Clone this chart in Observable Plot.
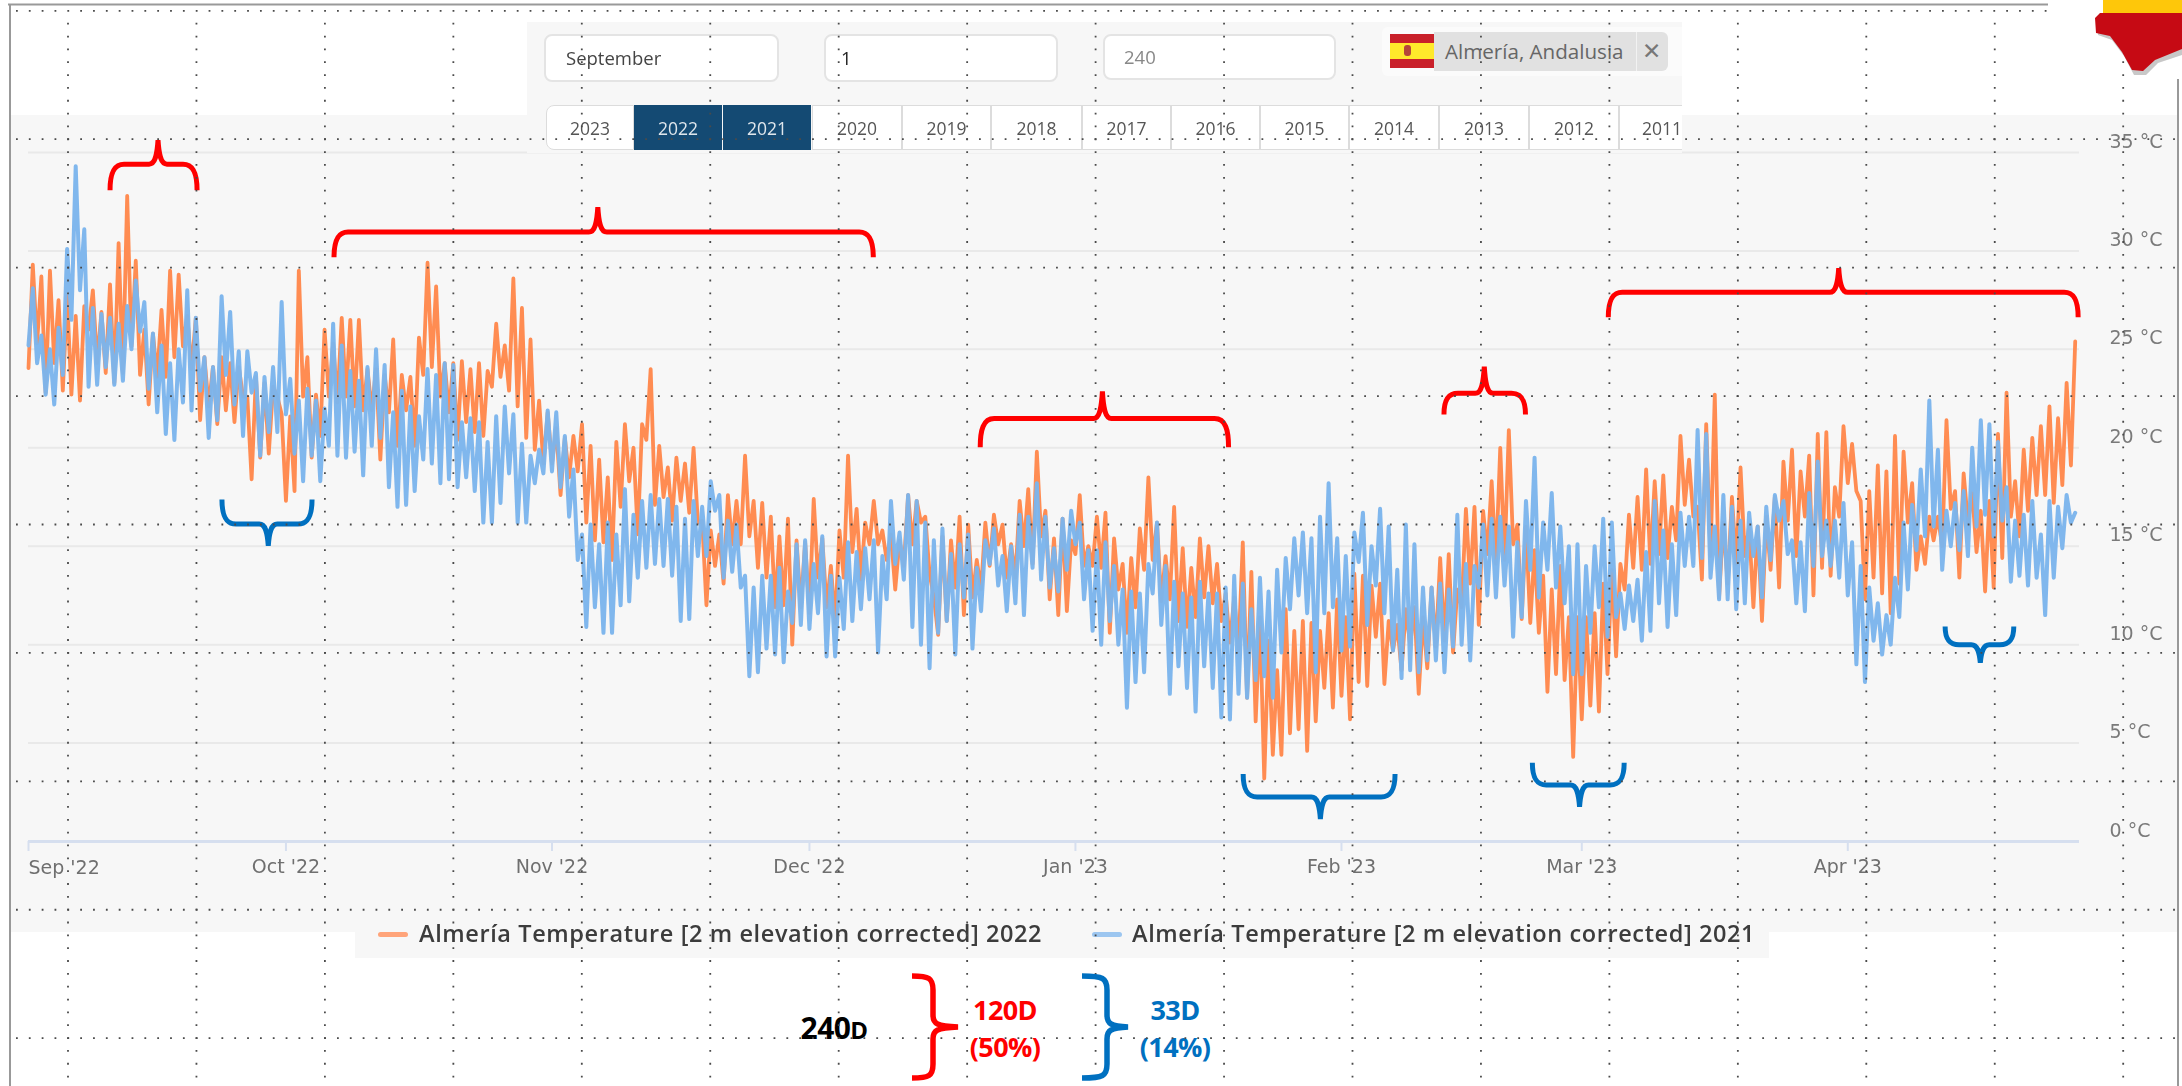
<!DOCTYPE html>
<html>
<head>
<meta charset="utf-8">
<script src="https://cdn.jsdelivr.net/npm/d3@7"></script>
<script src="https://cdn.jsdelivr.net/npm/@observablehq/plot@0.6"></script>
<style>
html,body{margin:0;padding:0;background:#fff}
#page{position:relative;width:2182px;height:1086px;overflow:hidden;font-family:"Open Sans",sans-serif}
#page>*{position:absolute}
.panel{background:#f7f7f7}
.box{background:#fff;border:2px solid #e4e4e4;border-radius:8px;box-sizing:border-box;font-size:18.5px;color:#444;display:flex;align-items:center;padding-bottom:2px}
.year{top:105px;height:45px;box-sizing:border-box;background:#fff;border:1px solid #dcdcdc;font-size:17.5px;color:#555;display:flex;align-items:center;justify-content:center;z-index:2;overflow:hidden}
.year.on{background:#144a73;color:#dfe6ec;border-color:#144a73}
.leg{font-size:23.5px;letter-spacing:.6px;font-weight:600;color:#3c3c3c;white-space:nowrap;z-index:2;line-height:1}
.swatch{height:5px;width:30px;border-radius:3px;z-index:2}
.note{font-weight:700;font-size:27px;line-height:1;white-space:nowrap;transform:translateX(-50%);letter-spacing:-.6px;z-index:2}
svg.chart g[aria-label="line"]{filter:blur(.45px)}
svg.chart text,.leg,.year,.box{filter:blur(.35px)}
</style>
</head>
<body>
<div id="page"></div>
<script>
// ---------- data: daily lows and highs (°C) starting 1 September ----------
const orangeLows = [
24.05,25.3,22.8,24.3,22.9,22.7,22.4,26,24.3,23.8,23.3,23.8,25.15,23.7,22.2,23.6,23.6,24.6,25.15,24,
21.4,22.1,21.2,21.9,21.3,22.6,18.4,19.5,19.7,22.6,17.3,17.8,22.6,19.5,20.6,22.6,22.3,22.6,22.1,21.9,
21.9,19.4,21.8,20.1,21.9,20.1,23.7,24.1,22.6,21.8,20.4,21.3,20.8,20.6,23.1,23.6,22.9,22.1,20.5,19.9,19.2,
19.2,17.6,18.5,18.8,16.2,15.3,15.2,14.3,17,18.3,15.6,20.4,17.1,17.5,16.3,17.3,16.7,16.2,12,14,
13.1,15.1,15.1,15.5,13.9,13.4,11.9,12,10,11.9,11.6,13.4,11.9,11.1,13.4,14.7,13.3,15.1,15.1,14.3,
12.8,14,15.1,16.2,13.6,10.5,11.2,12.9,11.5,12.4,12.8,14,15.1,13.4,13.4,15,14.1,15.5,12.3,11.5,11.7,14.6,14,14,
13.9,10.6,12.8,10.6,11.9,13.8,14.3,12.2,12.3,11.2,10.9,11.4,12.4,12.1,11.2,10.1,9.7,7.3,6.1,3.2,
4.4,4.4,5.5,5.7,4.6,6.1,7.8,6.8,7.4,6.2,8.1,7.9,10.4,8,9.7,8.7,10,7.5,8.8,9.9,
10.2,9.6,11.9,13.1,11,14.6,14.1,14.3,15.1,11.3,11.1,10.6,7.6,8.5,8.2,4.3,6.2,6.9,6.6,8.5,9.4,12.8,13.9,13.8,
14.1,14.6,14.4,15.3,17.1,16.5,13.3,14.5,12.4,13.1,14.1,14.5,11.9,11.2,13.8,12.9,16.3,14.5,16.5,12.5,
13.9,13.5,16.5,18.2,17.8,12.3,13.4,12.6,11.6,13.1,16.2,13.8,14.1,15.3,15,16.9,13.4,16.2,14.7,12.7,
12.9,14.4,16.5,15.5,16.8,17.6,17.6,17.2,18.1,19.1];
const orangeHighs = [
29.3,28.7,29,27.5,27.7,26.7,27.2,28,26.9,28.3,30.4,32.8,29.5,26,25.8,27,29,28.8,26.7,26.6,
24.6,24.1,24.6,24.3,24.1,22.6,23.6,23.3,23.1,21.7,21.6,29,24.6,22.7,26,25.3,26.6,26.5,26.5,24,
24,23.7,25.5,23.7,23.6,25.6,29.4,28.2,24.3,24.3,24.4,24,24.3,23.9,26.3,25.2,28.6,27.1,25.5,22.4,21.8,
21,20.5,20.6,21.2,20.1,19.4,18.5,20.3,21.2,20,21.2,24,20.1,19,19.5,19.2,20,16.3,15.8,15.6,
17.6,17.3,19.6,17.3,17.2,16.5,15.5,16.4,15.3,15.2,17.4,15.4,14,15.8,19.6,16.9,16.2,17.3,15.8,15.6,
15.3,17.6,17.3,16.5,12.4,15.5,15.3,16.5,16.1,14.3,16.2,16.6,16.1,15.1,17.3,17.9,19.8,16.8,15.4,16.4,15.3,17.6,15,16.5,
16.7,15.4,14.1,14.4,15.9,18.5,16.2,14.5,17,14.9,13.9,15.4,15,14.1,12.6,12.4,15.2,13.7,11.4,10.2,
8.7,11.8,10.7,11.2,11.1,10.7,11.6,12.3,11.4,13.6,13.5,13,13.1,11.2,11,11.8,11.9,11.4,12.9,14.4,
14.6,12.8,16.9,17,16.8,18.3,20,20.9,16.1,16,14.8,13.5,12.8,14,11.4,11.4,11.4,11.6,13.1,13.8,14.1,16.6,17.5,18.9,
18.3,18.6,17,20.6,19.4,17,21.2,22.7,16.2,17.5,19,16,16,16.5,17.5,19.3,19.9,18.8,19.6,20.7,
20.8,18,21.1,20.2,17.3,17.8,19.1,18.8,20.6,19.8,18.2,15.5,16.5,16.5,21.4,17.8,18.7,17.7,16.8,17.3,
20.7,22.8,18.3,19.9,20.5,21.1,22.1,21.5,23.3,25.4];
const blueLows = [
25.2,24.3,22.7,22.2,23.7,26.5,28,23.1,23.2,24.1,23.2,23.4,25,25.9,23,21.8,20.7,20.4,22.3,21.9,
22.9,20.5,21.4,23.7,22.2,20.6,22.8,19.6,20.8,20.8,21.7,19.7,18.3,19.6,18.3,20.1,19.6,19.5,19.8,18.6,
20.1,20.5,18,17,17.1,17.8,19.4,19.2,18.2,18.4,18,18.5,17.8,16.2,16.2,17.2,18.7,16.2,16.2,18.2,18.7,
18.8,18,16.5,14.3,10.9,11.9,10.6,10.6,12,12.2,13.4,13.9,14.1,14,13.5,11.2,11.3,14.5,14.5,16.8,
13.4,13.7,12.9,8.4,8.6,9.8,9.5,9.1,11.1,11,10.8,11.6,9.4,9.4,10.8,11.2,11.8,12.3,9.6,12.3,
14.1,13.3,10.9,10,8.8,10.6,11.2,9.5,12.4,9.8,11.7,14.1,13,11.7,12.1,11.5,13.9,13.3,12.9,12.7,13.8,15.1,12.3,10.7,
10,11.2,10,6.8,8.1,8.6,12.6,11,7.5,8.9,7.8,6.6,8.9,7.8,6.3,6.2,7.5,7.3,8.2,8.4,
7.3,9.6,11.8,12.5,11.6,8.6,11.6,11.9,9.7,9.9,14.2,11,13,11.6,9.7,8.3,8.7,8.6,9.2,9.2,
8.6,9.9,10,9.2,12.9,12.5,12.4,13,10.4,11.4,13.8,12.4,13.8,12.9,12.1,8.5,8.5,10.6,11.9,10.4,11.4,10.8,11.2,10.2,
10.7,12.1,10.9,11.5,14,14,14.4,13.4,12.3,12.3,11.8,12.1,14.5,12.4,14.3,16.3,14.6,12.1,11.7,14,
14.5,14,13.4,12.5,9,8.1,10.2,9.5,10,11.4,12.8,14.8,15.5,16,13.8,15,14.8,14.5,16,16.6,
15.5,16.3,13.2,13.5,13,13.4,11.5,13.4,14.9,16.2];
const blueHighs = [
28.1,25.7,25,26.1,30.1,34.3,31.1,27.1,26.8,26.6,26.3,27.2,28.5,27.4,25.8,25.2,24.3,25,28,26.6,
24.6,24.1,27.7,26.9,24.9,24.9,23.8,23.6,24.1,27.4,23.5,22.4,23,22.4,22,26.3,25.2,23.9,23.4,24.1,
25,24.2,21.8,22.9,22.1,21.6,24,23.7,24.3,24.2,21.3,21.5,21.3,20.3,21.6,22.1,21.7,20.2,19.6,19.9,21.9,
21.8,20.6,18.9,15.6,16.1,15.1,16.2,15.6,17.9,16.6,17.3,17.6,17.4,17.4,17,16.4,17.3,17,18.3,17.6,
16.3,16.1,13.5,12.9,13.5,13.5,13.9,12.7,15.1,15.3,14.1,15.5,13.5,13.4,15.2,14.7,14.9,15.3,14.5,17.3,
15.7,17.6,17.3,16.2,15.3,15.9,14.6,15.1,15.6,13.9,15.3,15.9,14.5,15,16.6,16.5,18.2,16.5,14.9,16.4,16.8,16.2,14.8,14.8,
15.2,14,12.8,12.7,12.6,14.1,16.2,14,13.2,12.6,12.4,13.2,12.6,12.6,12.9,13.5,13.1,11.8,13.4,12.7,
13.8,14.4,15.4,15.7,15.4,16.5,18.2,15.4,14.5,15.7,16.7,15,16.9,16,13.8,16.1,15.1,12.9,12.9,13.1,
12.8,16.6,14.1,14,16.1,16.4,16.5,16,15.2,17.3,19.5,16.2,17.7,16,15,15.1,14,15,16.4,16.2,12.6,13,13.3,14.7,
17.3,15.8,15.1,16.7,16.5,20.9,20.7,16,17.6,17,16.3,16.7,16,17,17.6,17.3,15.3,15.2,17.7,19.3,
16.3,16.3,17.2,15.2,14,12.9,12.1,11.5,13.4,16.2,17.1,18.9,22.4,19.9,16.8,17.2,17.8,20,21.4,21.2,
20.3,18,16.3,16.6,17.3,15.6,17.3,17,17.6,16.7];

const seriesNames = ["Almería Temperature [2 m elevation corrected] 2022","Almería Temperature [2 m elevation corrected] 2021"];
const monthLabels = ["Sep '22","Oct '22","Nov '22","Dec '22","Jan '23","Feb '23","Mar '23","Apr '23"];
const monthStarts = ["2022-09-01","2022-10-01","2022-11-01","2022-12-01","2023-01-01","2023-02-01","2023-03-01","2023-04-01"];
const tempTicks = [0,5,10,15,20,25,30,35];
const years = ["2023","2022","2021","2020","2019","2018","2017","2016","2015","2014","2013","2012","2011"];
const selectedYears = ["2022","2021"];

// annotation braces: day offset start, end, tip; temperature at foot, spine, tip
const redBraces = [
 [9.56,19.7,15.15,33.06,34.38,35.6],
 [35.66,98.5,66.4,29.65,30.93,32.2],
 [110.96,139.9,125.2,20,21.46,22.84],
 [165,174.5,169.7,21.67,22.74,24.1],
 [184.15,238.9,211,26.6,27.87,29.1]];
const blueBraces = [
 [22.6,33.1,28,17.35,16.1,15],
 [141.6,159.3,150.6,3.4,2.24,1.12],
 [175.3,186,180.8,3.97,2.85,1.73],
 [223.4,231.4,227.5,10.9,9.97,9.05]];

// ---------- series assembly ----------
const start = new Date(Date.UTC(2022,8,1));
const atDay = d => new Date(+start + d*864e5);
const tidy = (lows,highs) => lows.flatMap((v,i)=>[{date:atDay(i),temp:v},{date:atDay(i+.5),temp:highs[i]}]);
const orange = tidy(orangeLows,orangeHighs);
const blue = tidy(blueLows,blueHighs);
const monthDates = monthStarts.map(s=>new Date(s+"T00:00Z"));

const orangeColor="#ff8c52", blueColor="#7cb5ec", red="#ff0000", deep="#0070c0";

function braceMark(list,color){
  return (index,{x,y})=>{
    const g=d3.create("svg:g").attr("fill","none").attr("stroke",color).attr("stroke-width",5).attr("stroke-linecap","butt");
    for(const [a,b,t,foot,spine,tip] of list){
      const x0=x(atDay(a)),x1=x(atDay(b)),xt=x(atDay(t)),yf=y(foot),ys=y(spine),yt=y(tip),r=Math.min(14,(x1-x0)/4),k=.4;
      g.append("path").attr("d",
       `M${x0},${yf}C${x0},${ys+(yf-ys)*k} ${x0+3},${ys} ${x0+r},${ys}L${xt-9},${ys}`+
       `C${xt-3},${ys} ${xt-1},${ys+(yt-ys)*.35} ${xt},${yt}C${xt+1},${ys+(yt-ys)*.35} ${xt+3},${ys} ${xt+9},${ys}`+
       `L${x1-r},${ys}C${x1-3},${ys} ${x1},${ys+(yf-ys)*k} ${x1},${yf}`);
    }
    return g.node();
  };
}

const chart = Plot.plot({
  width:2182,height:1086,
  marginLeft:28,marginRight:103,marginTop:152,marginBottom:245,
  x:{type:"utc",domain:[atDay(0),atDay(239)]},
  y:{domain:[0,35]},
  className:"chart",
  style:{background:"transparent",fontFamily:"'DejaVu Sans',sans-serif",position:"absolute",left:0,top:0,zIndex:1},
  marks:[
    Plot.gridY(tempTicks,{stroke:"#e9e9e9",strokeOpacity:1,strokeWidth:2}),
    Plot.ruleY([0],{stroke:"#d6dfef",strokeWidth:3}),
    Plot.axisX({ticks:monthDates,anchor:"bottom",tickSize:10,tickPadding:8,stroke:"#d6dfef",strokeWidth:2,fill:"#6f6f6f",fontSize:19,label:null,
      tickFormat:d=>{const i=monthDates.findIndex(m=>+m===+d);return i>0?monthLabels[i]:"";}}),
    Plot.text([monthDates[0]],{x:d=>d,y:()=>0,text:()=>monthLabels[0],textAnchor:"start",dy:26,fill:"#6f6f6f",fontSize:19}),
    Plot.axisY({ticks:tempTicks,anchor:"right",tickSize:0,tickPadding:30,dy:-11,fill:"#7a7a7a",fontSize:19,label:null,tickFormat:d=>`${d} °C`}),
    Plot.line(orange,{x:"date",y:"temp",stroke:orangeColor,strokeWidth:3.8,strokeLinejoin:"round"}),
    Plot.line(blue,{x:"date",y:"temp",stroke:blueColor,strokeWidth:4,strokeLinejoin:"round",strokeOpacity:.97}),
    braceMark(redBraces,red),
    braceMark(blueBraces,deep)
  ]
});

// ---------- surrounding page: panels and controls as HTML ----------
const page=document.getElementById("page");
function el(cls,css,txt){const e=document.createElement("div");e.className=cls;Object.assign(e.style,css);if(txt!=null)e.textContent=txt;page.appendChild(e);return e;}
el("panel",{left:"10px",top:"115px",width:"2168px",height:"817px"});
el("panel",{left:"355px",top:"932px",width:"1414px",height:"26px"});
page.appendChild(chart);
el("panel",{left:"527px",top:"22px",width:"1155px",height:"131px",zIndex:2});
const boxStyle={top:"34px",height:"48px",zIndex:2};
el("box",{...boxStyle,left:"544px",width:"235px",paddingLeft:"20px"},"September");
el("box",{...boxStyle,left:"824px",width:"234px",paddingLeft:"15px",color:"#222"},"1");
el("box",{...boxStyle,left:"1103px",width:"233px",height:"46px",paddingLeft:"19px",color:"#888"},"240");
// location chip with flag
el("",{left:"1382px",top:"27px",width:"300px",height:"49px",background:"#fbfbfb",borderRadius:"6px 0 0 6px",zIndex:2});
el("",{left:"1434px",top:"32px",width:"234px",height:"39px",background:"#e1e1e1",borderRadius:"0 6px 6px 0",zIndex:2});
el("",{left:"1390px",top:"34px",width:"44px",height:"34px",background:"linear-gradient(#c9202a 0 26%,#ffe92b 26% 74%,#c9202a 74%)",zIndex:2});
el("",{left:"1404px",top:"45px",width:"7px",height:"11px",background:"#b5463a",borderRadius:"3px",zIndex:2});
el("",{left:"1445px",top:"38px",fontSize:"20.6px",color:"#666",zIndex:3,lineHeight:"26px",whiteSpace:"nowrap"},"Almería, Andalusia");
el("",{left:"1642px",top:"36px",fontSize:"23px",color:"#777",zIndex:3,lineHeight:"28px"},"✕");
el("",{left:"1636px",top:"32px",width:"1px",height:"39px",background:"#f2f2f2",zIndex:3});
// year tabs
const tabEdges=[546,634,723,812,902,991,1082,1171,1260,1349,1439,1529,1619,1682];
years.forEach((y,i)=>{
  const on=selectedYears.includes(y), last=i==years.length-1;
  const css={left:tabEdges[i]+"px",width:(tabEdges[i+1]-tabEdges[i]-(on?1:0))+"px",borderRadius:i==0?"8px 0 0 8px":"0"};
  if(last) Object.assign(css,{justifyContent:"flex-start",paddingLeft:"22px",borderRight:"none"});
  el("year"+(on?" on":""),css,y);
});
// legend
el("swatch",{left:"378px",top:"932px",background:"#ffa47a"});
el("leg",{left:"419px",top:"922px"},seriesNames[0]);
el("swatch",{left:"1092px",top:"932px",background:"#9cc6f0"});
el("leg",{left:"1132px",top:"922px"},seriesNames[1]);
// summary note under the chart
const n240=el("note",{left:"834px",top:"1013px",color:"#000",fontSize:"30px"});
n240.innerHTML='240<span style="font-size:24px">D</span>';
el("note",{left:"1005px",top:"996px",color:red},"120D");
el("note",{left:"1005px",top:"1033px",color:red},"(50%)");
el("note",{left:"1175px",top:"996px",color:deep},"33D");
el("note",{left:"1175px",top:"1033px",color:deep},"(14%)");

// ---------- overlay: frame, dotted lattice, corner map, summary braces ----------
const over=d3.create("svg").attr("width",2182).attr("height",1086)
  .style("position","absolute").style("left",0).style("top",0).style("z-index",5).style("pointer-events","none");
const frame=over.append("g").attr("stroke","#999").attr("stroke-width",2);
frame.append("line").attr("x1",8).attr("x2",2048).attr("y1",4.5).attr("y2",4.5);
frame.append("line").attr("x1",10).attr("x2",10).attr("y1",4).attr("y2",1086);
frame.append("line").attr("x1",2178).attr("x2",2178).attr("y1",79).attr("y2",1086);
const dots=over.append("g").attr("stroke","#4a4a4a").attr("stroke-width",1.8).attr("stroke-dasharray","1.8 11.04");
d3.range(9).forEach(k=>{
  const yy=10.8+128.42*k;
  dots.append("line").attr("x1",16).attr("x2",k==0?2047:2177).attr("y1",yy).attr("y2",yy);
});
d3.range(17).forEach(k=>{
  const xx=68+128.45*k;
  dots.append("line").attr("x1",xx).attr("x2",xx).attr("y1",22.8).attr("y2",1086);
});
over.append("polygon").attr("points","2099,17 2098,35 2112,40 2124,56 2134,75 2146,75 2158,63 2182,55 2182,17").attr("fill","#c8c8c8");
over.append("rect").attr("x",2103).attr("y",0).attr("width",79).attr("height",14).attr("fill","#fec70a");
over.append("polygon").attr("points","2100,13 2095,18 2096,33 2110,36 2122,52 2132,70 2143,71 2155,60 2182,49 2182,13").attr("fill","#c60a14");
function rightBrace(x0,xs,xt,y0,y1,yt,color){
  over.append("path").attr("fill","none").attr("stroke",color).attr("stroke-width",5.5).attr("d",
   `M${x0},${y0}C${xs-4},${y0} ${xs},${y0+2} ${xs},${y0+14}L${xs},${yt-12}C${xs},${yt-3} ${xs+4},${yt-1} ${xt},${yt}`+
   `C${xs+4},${yt+1} ${xs},${yt+3} ${xs},${yt+12}L${xs},${y1-14}C${xs},${y1-2} ${xs-4},${y1} ${x0},${y1}`);
}
rightBrace(912,933,958,976,1078,1027,red);
rightBrace(1082,1107,1128,976,1078,1027,deep);
page.appendChild(over.node());
</script>
</body>
</html>
